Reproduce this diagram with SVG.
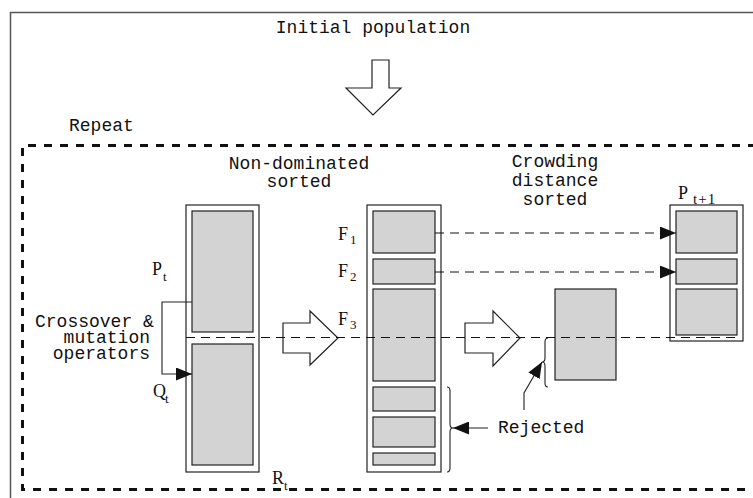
<svg xmlns="http://www.w3.org/2000/svg" width="753" height="498" viewBox="0 0 753 498">
  <defs>
    <style>
      .frame { fill: none; stroke: #555; stroke-width: 1.5; }
      .loop { fill: none; stroke: #111; stroke-width: 3; stroke-dasharray: 8 8; }
      .col { fill: #fff; stroke: #222; stroke-width: 1.2; }
      .blk { fill: #d3d3d3; stroke: #222; stroke-width: 1.2; }
      .hollow { fill: #fff; stroke: #222; stroke-width: 1.2; }
      .guide { fill: none; stroke: #111; stroke-width: 1; stroke-dasharray: 9 6; }
      .wire { fill: none; stroke: #222; stroke-width: 1.1; }
      .brace { fill: none; stroke: #222; stroke-width: 1.1; }
      .t { font-family: "Liberation Mono", "DejaVu Sans Mono", monospace; font-size: 18px; fill: #111; }
      .m { font-family: "Liberation Serif", "DejaVu Serif", serif; font-size: 18px; fill: #111; }
      .s { font-family: "Liberation Serif", "DejaVu Serif", serif; font-size: 13px; fill: #111; }
      .s2 { font-family: "Liberation Serif", "DejaVu Serif", serif; font-size: 15px; letter-spacing: 1px; fill: #111; }
    </style>
    <marker id="head" viewBox="0 0 16 13" refX="16" refY="6.5" markerWidth="16" markerHeight="13" markerUnits="userSpaceOnUse" orient="auto">
      <path d="M0,0 L16,6.5 L0,13 Z" fill="#111"/>
    </marker>
  </defs>

  <rect width="753" height="498" fill="#fff"/>

  <!-- outer frame and the repeat loop -->
  <path class="frame" d="M10.5,500 V12.5 H756"/>
  <path class="loop" d="M756,145.5 H22.5 V489.5 H756"/>

  <g id="initial">
    <text class="t" x="373" y="33" text-anchor="middle">Initial population</text>
    <polygon class="hollow" points="372,60 389,60 389,88 401,88 373,115 346,88 372,88"/>
  </g>

  <text id="repeat" class="t" x="69" y="131">Repeat</text>

  <!-- combined population R_t = P_t + Q_t -->
  <g id="rt">
    <rect class="col" x="186" y="205" width="73" height="267"/>
    <rect class="blk" x="192" y="211" width="61" height="121"/>
    <rect class="blk" x="192" y="344" width="61" height="121"/>
    <text class="m" x="152" y="275">P</text><text class="s" x="163" y="281">t</text>
    <text class="m" x="153" y="397">Q</text><text class="s" x="165" y="403">t</text>
    <text class="m" x="272" y="484">R</text><text class="s" x="284" y="490">t</text>
  </g>

  <g id="operators">
    <text class="t" x="35" y="327">Crossover &amp;</text>
    <text class="t" x="150" y="343" text-anchor="end">mutation</text>
    <text class="t" x="150" y="359" text-anchor="end">operators</text>
  </g>

  <g id="arrow-sort">
    <polygon class="hollow" points="283,323 310,323 310,311 338,338 310,365 310,353 283,353"/>
  </g>

  <!-- fronts after non-dominated sorting -->
  <g id="fronts">
    <text class="t" x="299" y="169" text-anchor="middle">Non-dominated</text>
    <text class="t" x="299" y="187" text-anchor="middle">sorted</text>
    <rect class="col" x="367" y="205" width="74" height="267"/>
    <rect class="blk" x="373" y="211" width="62" height="42"/>
    <rect class="blk" x="373" y="259" width="62" height="25"/>
    <rect class="blk" x="373" y="289" width="62" height="92"/>
    <rect class="blk" x="373" y="387" width="62" height="24"/>
    <rect class="blk" x="373" y="417" width="62" height="30"/>
    <rect class="blk" x="373" y="453" width="62" height="12"/>
    <text class="m" x="338" y="240">F</text><text class="s" x="350" y="244">1</text>
    <text class="m" x="338" y="277">F</text><text class="s" x="350" y="281">2</text>
    <text class="m" x="338" y="325">F</text><text class="s" x="350" y="329">3</text>
  </g>

  <g id="arrow-crowd">
    <polygon class="hollow" points="465,323 493,323 493,311 520,338 493,366 493,353 465,353"/>
  </g>

  <g id="crowding">
    <text class="t" x="555" y="167" text-anchor="middle">Crowding</text>
    <text class="t" x="555" y="186" text-anchor="middle">distance</text>
    <text class="t" x="555" y="205" text-anchor="middle">sorted</text>
    <rect class="blk" x="555" y="289" width="61" height="91"/>
  </g>

  <!-- next population -->
  <g id="pnext">
    <rect class="col" x="670" y="205" width="73" height="136"/>
    <rect class="blk" x="676" y="211" width="61" height="42"/>
    <rect class="blk" x="676" y="259" width="61" height="25"/>
    <rect class="blk" x="676" y="289" width="61" height="46"/>
    <text class="m" x="678" y="199">P</text><text class="s2" x="693" y="204">t+1</text>
  </g>

  <g id="rejected">
    <text class="t" x="498" y="433">Rejected</text>
  </g>

  <g id="connectors">
    <path class="wire" d="M192,302 H162 V374 H192" marker-end="url(#head)"/>
    <path class="guide" d="M435,233 H676" marker-end="url(#head)"/>
    <path class="guide" d="M435,272 H676" marker-end="url(#head)"/>
    <path class="brace" d="M548,338 Q545,338 545,342 L545,358 Q545,362 542,362 Q545,362 545,366 L545,383 Q545,387 548,387"/>
    <path class="brace" d="M447,387 Q450,387 450,391 L450,424 Q450,428 453,428 Q450,428 450,432 L450,468 Q450,472 447,472"/>
    <path class="wire" d="M524,410 V393 L542,362" marker-end="url(#head)"/>
    <path class="wire" d="M488,428 H453" marker-end="url(#head)"/>
    <!-- cut line: members below it do not survive -->
    <path class="guide" d="M186,337.5 H739"/>
  </g>
</svg>
